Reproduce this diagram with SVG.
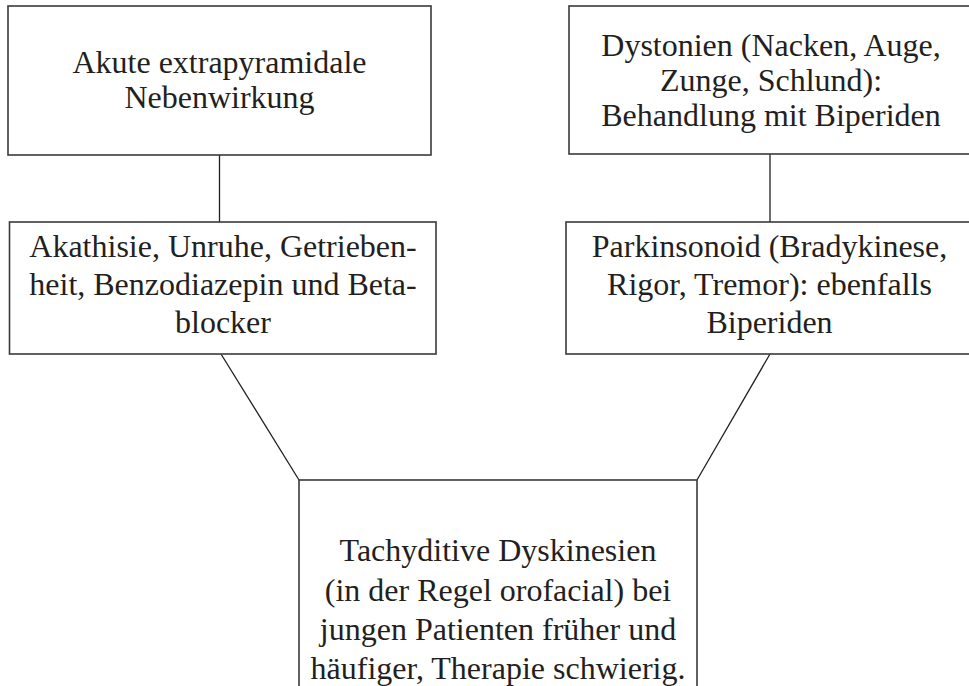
<svg xmlns="http://www.w3.org/2000/svg" width="969" height="686" viewBox="0 0 969 686">
<style>
.box{fill:#fff;stroke:#3a3a3a;stroke-width:1.6}
.lbl{font-family:"Liberation Serif","Times New Roman",serif;font-size:32px;fill:#231f20;text-anchor:middle}
.con{stroke:#231f20;stroke-width:1.3;fill:none}
</style>
<rect width="969" height="686" fill="#fff"/>
<g id="connectors">
<line class="con" x1="219.5" y1="155" x2="219.5" y2="222"/>
<line class="con" x1="770" y1="154" x2="770" y2="222"/>
<line class="con" x1="221" y1="354" x2="299" y2="480"/>
<line class="con" x1="770" y1="354" x2="697" y2="480"/>
</g>
<g id="n1">
<rect class="box" x="8" y="6" width="423" height="149"/>
<text class="lbl" x="219.5" y="73">Akute extrapyramidale</text>
<text class="lbl" x="219.5" y="108">Nebenwirkung</text>
</g>
<g id="n2">
<rect class="box" x="569" y="6" width="406" height="148"/>
<text class="lbl" x="771" y="56">Dystonien (Nacken, Auge,</text>
<text class="lbl" x="771" y="91">Zunge, Schlund):</text>
<text class="lbl" x="771" y="126">Behandlung mit Biperiden</text>
</g>
<g id="n3">
<rect class="box" x="9.5" y="222" width="426.5" height="132"/>
<text class="lbl" x="223" y="257">Akathisie, Unruhe, Getrieben-</text>
<text class="lbl" x="223" y="295">heit, Benzodiazepin und Beta-</text>
<text class="lbl" x="223" y="333">blocker</text>
</g>
<g id="n4">
<rect class="box" x="566" y="222" width="409" height="132"/>
<text class="lbl" x="769.5" y="257">Parkinsonoid (Bradykinese,</text>
<text class="lbl" x="769.5" y="295">Rigor, Tremor): ebenfalls</text>
<text class="lbl" x="769.5" y="333">Biperiden</text>
</g>
<g id="n5">
<rect class="box" x="299" y="480" width="398" height="230"/>
<text class="lbl" x="498" y="561">Tachyditive Dyskinesien</text>
<text class="lbl" x="498" y="601">(in der Regel orofacial) bei</text>
<text class="lbl" x="498" y="640">jungen Patienten früher und</text>
<text class="lbl" x="498" y="679">häufiger, Therapie schwierig.</text>
</g>
</svg>
